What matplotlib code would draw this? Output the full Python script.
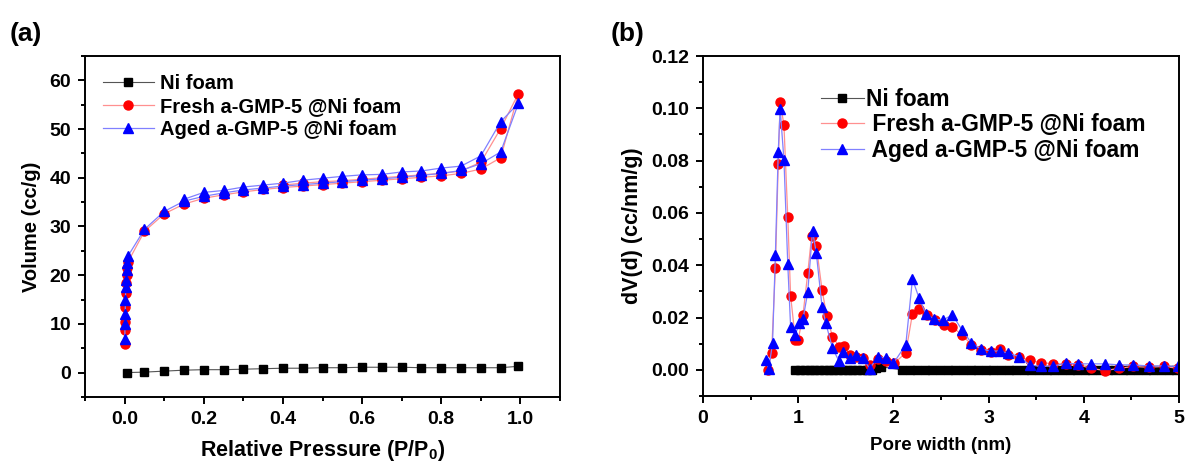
import matplotlib
matplotlib.use('Agg')
import matplotlib.pyplot as plt
from matplotlib.ticker import MultipleLocator

plt.rcParams['font.family'] = ['Liberation Sans', 'DejaVu Sans']
plt.rcParams['font.weight'] = 'bold'
plt.rcParams['mathtext.fontset'] = 'custom'
plt.rcParams['mathtext.bf'] = 'Liberation Sans:bold'
plt.rcParams['mathtext.rm'] = 'Liberation Sans:bold'

# ---- (a) N2 isotherms ----
ni_p = [0.005, 0.05, 0.10, 0.15, 0.20, 0.25, 0.30, 0.35, 0.40, 0.45, 0.50,
        0.55, 0.60, 0.65, 0.70, 0.75, 0.80, 0.85, 0.90, 0.95, 0.995]
ni_v = [0.0, 0.1, 0.3, 0.5, 0.6, 0.6, 0.7, 0.8, 0.9, 0.9, 1.0,
        1.0, 1.1, 1.1, 1.1, 1.0, 1.0, 1.0, 1.0, 1.0, 1.3]

fresh_p = [0.0005, 0.001, 0.0015, 0.002, 0.003, 0.004, 0.005, 0.007, 0.009,
           0.05, 0.10, 0.15, 0.20, 0.25, 0.30, 0.35, 0.40, 0.45, 0.50, 0.55,
           0.60, 0.65, 0.70, 0.75, 0.80, 0.85, 0.90, 0.95, 0.995,
           0.95, 0.90, 0.85, 0.80, 0.75, 0.70, 0.65, 0.60, 0.55, 0.50, 0.45, 0.40]
fresh_v = [5.8, 8.7, 10.4, 13.5, 16.4, 18.5, 20.0, 21.5, 22.8,
           29.0, 32.6, 34.6, 35.8, 36.5, 37.1, 37.6, 38.0, 38.3, 38.6, 38.9,
           39.2, 39.5, 39.8, 40.1, 40.4, 40.9, 41.8, 44.1, 57.3,
           50.1, 43.2, 41.4, 40.9, 40.6, 40.3, 40.0, 39.7, 39.4, 39.2, 38.9, 38.5]

aged_p = [0.0005, 0.001, 0.0015, 0.002, 0.003, 0.004, 0.005, 0.007, 0.009,
          0.05, 0.10, 0.15, 0.20, 0.25, 0.30, 0.35, 0.40, 0.45, 0.50, 0.55,
          0.60, 0.65, 0.70, 0.75, 0.80, 0.85, 0.90, 0.95, 0.995,
          0.95, 0.90, 0.85, 0.80, 0.75, 0.70, 0.65, 0.60, 0.55, 0.50, 0.45,
          0.40, 0.35, 0.30, 0.25, 0.20, 0.15]
aged_v = [7.0, 10.0, 12.0, 15.0, 17.5, 19.0, 21.0, 22.5, 24.0,
          29.4, 33.1, 35.2, 36.2, 36.9, 37.5, 37.9, 38.3, 38.6, 38.9, 39.2,
          39.5, 39.8, 40.1, 40.5, 40.9, 41.5, 42.9, 45.3, 55.3,
          51.5, 44.5, 42.4, 42.0, 41.4, 41.2, 40.7, 40.6, 40.3, 39.9, 39.5,
          38.9, 38.5, 38.1, 37.4, 37.0, 35.6]

# ---- (b) pore size distribution ----
ni_d = [0.97, 1.02, 1.07, 1.12, 1.17, 1.22, 1.27, 1.32, 1.37, 1.42, 1.47,
        1.52, 1.57, 1.62, 1.67, 1.72, 1.77, 1.82, 1.87,
        2.09, 2.17, 2.25, 2.33, 2.41, 2.49, 2.57, 2.65, 2.73, 2.81, 2.89,
        2.97, 3.05, 3.13, 3.21, 3.29, 3.37, 3.45, 3.53, 3.61, 3.69, 3.77,
        3.85, 3.93, 4.01, 4.09, 4.17, 4.25, 4.33, 4.41, 4.49, 4.57, 4.65,
        4.73, 4.81, 4.89, 4.97]
ni_dv = [0.0] * 17 + [0.0006, 0.0012] + [0.0] * 37

fresh_d = [0.68, 0.72, 0.76, 0.79, 0.81, 0.85, 0.89, 0.92, 0.97, 1.00, 1.05,
           1.10, 1.14, 1.19, 1.25, 1.30, 1.36, 1.43, 1.48, 1.54, 1.61, 1.68,
           1.75, 1.84, 1.92, 2.01, 2.13, 2.20, 2.27, 2.35, 2.44, 2.53, 2.62,
           2.72, 2.82, 2.92, 3.02, 3.12, 3.20, 3.32, 3.43, 3.55, 3.68, 3.81,
           3.94, 4.08, 4.22, 4.37, 4.52, 4.68, 4.84, 4.99]
fresh_dv = [0.0, 0.0064, 0.0389, 0.0787, 0.1025, 0.0936, 0.0586, 0.0283,
            0.0115, 0.0115, 0.021, 0.037, 0.051, 0.0474, 0.0306, 0.0206,
            0.0127, 0.0089, 0.0093, 0.0057, 0.0051, 0.0045, 0.0019, 0.004,
            0.0032, 0.0025, 0.0066, 0.0214, 0.0232, 0.021, 0.0189, 0.0172,
            0.0164, 0.0134, 0.0096, 0.0076, 0.0070, 0.0079, 0.0057, 0.0051,
            0.0036, 0.0028, 0.0023, 0.0023, 0.0019, 0.0006, -0.0003, 0.0006,
            0.0013, 0.001, 0.0013, 0.0006]

aged_d = [0.66, 0.69, 0.73, 0.76, 0.79, 0.81, 0.85, 0.89, 0.92, 0.97, 1.01,
          1.05, 1.10, 1.15, 1.19, 1.25, 1.29, 1.36, 1.43, 1.47, 1.54, 1.61,
          1.68, 1.75, 1.84, 1.92, 2.00, 2.13, 2.20, 2.27, 2.34, 2.43, 2.52,
          2.62, 2.72, 2.82, 2.92, 3.02, 3.12, 3.20, 3.32, 3.43, 3.55, 3.68,
          3.81, 3.94, 4.08, 4.22, 4.37, 4.52, 4.68, 4.84, 4.99]
aged_dv = [0.0038, 0.0003, 0.0102, 0.044, 0.0834, 0.0999, 0.0802, 0.0405,
           0.0163, 0.0134, 0.0178, 0.0194, 0.0297, 0.0532, 0.0446, 0.0242,
           0.0178, 0.0083, 0.0032, 0.007, 0.0045, 0.0057, 0.0045, 0.0005,
           0.0051, 0.0045, 0.0025, 0.0096, 0.0347, 0.0274, 0.0214, 0.0194,
           0.0191, 0.021, 0.0153, 0.0103, 0.008, 0.0072, 0.0072, 0.0064,
           0.0051, 0.0019, 0.0013, 0.0015, 0.0025, 0.0023, 0.0023, 0.0023,
           0.0019, 0.0019, 0.0015, 0.0015, 0.0013]

labels_a = ['Ni foam', 'Fresh a-GMP-5 @Ni foam', 'Aged a-GMP-5 @Ni foam']
labels_b = ['Ni foam', ' Fresh a-GMP-5 @Ni foam', ' Aged a-GMP-5 @Ni foam']

fig = plt.figure(figsize=(11.91, 4.67), dpi=100)
ax1 = fig.add_axes([0.0714, 0.150, 0.3988, 0.730])
ax2 = fig.add_axes([0.5903, 0.152, 0.3996, 0.728])


def draw(ax, xs, ys, labels):
    ax.plot(xs[0], ys[0], color='#555555', lw=0.8, marker='s', ms=6,
            mfc='black', mec='black', label=labels[0])
    ax.plot(xs[1], ys[1], color='#ff9090', lw=0.9, marker='o', ms=6.5,
            mfc='red', mec='red', label=labels[1])
    ax.plot(xs[2], ys[2], color='#8080ff', lw=0.9, marker='^', ms=7,
            mfc='blue', mec='blue', label=labels[2])


draw(ax1, [ni_p, fresh_p, aged_p], [ni_v, fresh_v, aged_v], labels_a)
draw(ax2, [ni_d, fresh_d, aged_d], [ni_dv, fresh_dv, aged_dv], labels_b)

ax1.set_xlim(-0.1, 1.1)
ax1.set_ylim(-5, 65)
ax1.xaxis.set_minor_locator(MultipleLocator(0.1))
ax1.yaxis.set_major_locator(MultipleLocator(10))
ax1.yaxis.set_minor_locator(MultipleLocator(5))
ax1.set_xticks([0.0, 0.2, 0.4, 0.6, 0.8, 1.0])
ax1.set_xticklabels(['0.0', '0.2', '0.4', '0.6', '0.8', '1.0'])
ax1.set_xlabel(r'Relative Pressure (P/P$_\mathbf{0}$)', fontsize=15.5,
               fontweight='bold', labelpad=7)
ax1.set_ylabel('Volume (cc/g)', fontsize=14.5, fontweight='bold', labelpad=6)

ax2.set_xlim(0, 5)
ax2.set_ylim(-0.01, 0.12)
ax2.xaxis.set_major_locator(MultipleLocator(1))
ax2.xaxis.set_minor_locator(MultipleLocator(0.5))
ax2.yaxis.set_minor_locator(MultipleLocator(0.01))
ax2.set_yticks([0.0, 0.02, 0.04, 0.06, 0.08, 0.10, 0.12])
ax2.set_yticklabels(['0.00', '0.02', '0.04', '0.06', '0.08', '0.10', '0.12'])
ax2.set_xlabel('Pore width (nm)', fontsize=13.5, fontweight='bold', labelpad=7)
ax2.set_ylabel('dV(d) (cc/nm/g)', fontsize=15.5, fontweight='bold', labelpad=6)

for ax in (ax1, ax2):
    for s in ax.spines.values():
        s.set_linewidth(1.4)
    ax.tick_params(which='major', direction='out', length=5, width=1.4,
                   labelsize=14, pad=5)
    ax.tick_params(which='minor', direction='out', length=3, width=1.4)
    for t in ax.get_xticklabels() + ax.get_yticklabels():
        t.set_fontweight('bold')

ax1.legend(loc='upper left', bbox_to_anchor=(0.0, 1.0), frameon=False,
           prop={'size': 14.5, 'weight': 'bold'}, handlelength=2.5,
           handletextpad=0.3, labelspacing=0.2, borderaxespad=0.5)
ax2.legend(loc='upper left', bbox_to_anchor=(0.205, 0.968), frameon=False,
           prop={'size': 16.5, 'weight': 'bold'}, handlelength=1.85,
           handletextpad=0.1, labelspacing=0.12)

fig.text(0.008, 0.912, '(a)', fontsize=19, fontweight='bold')
fig.text(0.513, 0.912, '(b)', fontsize=19, fontweight='bold')

fig.savefig('out.png', dpi=100)
